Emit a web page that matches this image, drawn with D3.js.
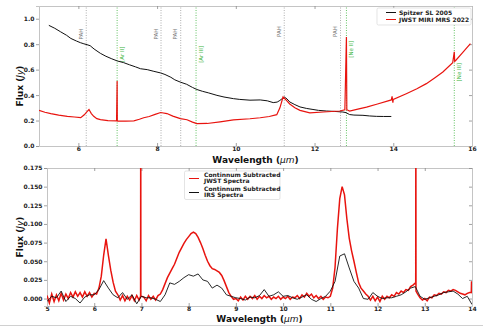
<!DOCTYPE html>
<html>
<head>
<meta charset="utf-8">
<script src="https://cdn.jsdelivr.net/npm/d3@7"></script>
<style>
  html, body { margin: 0; padding: 0; background: #fff; }
  svg { display: block; font-family: "DejaVu Sans", sans-serif; }
</style>
</head>
<body>
<svg id="chart" width="483" height="328"></svg>
<script>
// ---------- Top panel: full spectra ----------
const spitzerWave = [5.25,5.4,5.55,5.7,5.81,5.95,6.05,6.14,6.22,6.3,6.4,6.56,6.7,6.85,6.99,7.15,7.3,7.45,7.58,7.75,7.9,8.09,8.2,8.35,8.45,8.59,8.75,8.9,9.01,9.15,9.3,9.52,9.7,9.94,10.1,10.36,10.62,10.8,10.95,11.05,11.12,11.23,11.3,11.37,11.5,11.63,11.8,11.96,12.1,12.3,12.5,12.72,12.8,12.89,13.0,13.23,13.4,13.57,13.75,13.95];
const spitzerFlux = [0.948,0.925,0.897,0.87,0.845,0.825,0.812,0.803,0.796,0.788,0.762,0.728,0.705,0.685,0.668,0.655,0.638,0.622,0.607,0.600,0.588,0.574,0.562,0.54,0.52,0.502,0.485,0.46,0.444,0.43,0.418,0.398,0.385,0.372,0.366,0.360,0.362,0.355,0.341,0.345,0.358,0.385,0.37,0.346,0.325,0.307,0.295,0.287,0.28,0.275,0.272,0.267,0.262,0.247,0.243,0.241,0.236,0.233,0.232,0.232];

const jwstWave = [5.0,5.15,5.3,5.5,5.72,5.9,6.06,6.15,6.22,6.27,6.33,6.39,6.47,6.56,6.75,6.97,6.985,6.99,7.0,7.2,7.41,7.55,7.66,7.8,7.95,8.09,8.25,8.4,8.59,8.76,8.9,9.01,9.27,9.6,9.94,10.36,10.62,10.85,11.04,11.12,11.2,11.28,11.37,11.5,11.63,11.88,12.22,12.64,12.77,12.81,12.82,12.89,13.1,13.32,13.6,13.95,13.97,13.99,14.0,14.33,14.6,14.84,15.05,15.26,15.51,15.55,15.56,15.58,15.75,15.96];
const jwstFlux = [0.28,0.265,0.254,0.242,0.233,0.228,0.223,0.245,0.27,0.287,0.255,0.233,0.215,0.207,0.2,0.197,0.51,0.197,0.196,0.195,0.197,0.21,0.222,0.232,0.248,0.263,0.255,0.235,0.215,0.206,0.188,0.176,0.177,0.19,0.205,0.214,0.222,0.232,0.246,0.3,0.385,0.36,0.33,0.3,0.28,0.26,0.267,0.275,0.285,0.856,0.285,0.275,0.29,0.306,0.33,0.362,0.39,0.34,0.366,0.411,0.45,0.49,0.535,0.581,0.655,0.74,0.665,0.67,0.73,0.804];

// Feature markers (wavelength in micron)
const featureWave  = [6.2, 6.985, 8.1, 8.6, 8.99, 11.23, 12.66, 12.81, 15.55];
const featureLabel = ["PAH", "[Ar II]", "PAH", "PAH", "[Ar III]", "PAH", "PAH", "[Ne II]", "[Ne III]"];
const featureKind  = ["pah", "ion", "pah", "pah", "ion", "pah", "pah", "ion", "ion"];
const featureTextY = [0.88, 0.72, 0.88, 0.88, 0.72, 0.90, 0.90, 0.76, 0.58];

const topXTicks = [6, 8, 10, 12, 14, 16];
const topYTicks = [0.0, 0.2, 0.4, 0.6, 0.8, 1.0];
const topLegend = ["Spitzer SL 2005", "JWST MIRI MRS 2022"];

// ---------- Bottom panel: continuum subtracted ----------
// JWST sampled every 0.05 micron from 5.00 to 14.00
const jwstSubStart = 5.0, jwstSubStep = 0.05;
const jwstSubFlux = [
  0.004,-0.006,0.006,-0.004,0.005,-0.003,0.007,-0.002,0.006,0.000,
  0.008,0.002,0.009,0.003,0.008,0.002,0.009,0.003,0.008,0.002,
  0.007,0.006,0.014,0.030,0.058,0.080,0.058,0.038,0.022,0.010,
  0.005,-0.002,0.004,-0.003,0.003,-0.002,0.004,-0.003,0.004,-0.002,
  0.003,0.002,-0.003,0.004,-0.001,0.003,-0.002,0.004,0.006,0.012,
  0.020,0.028,0.034,0.040,0.046,0.054,0.062,0.068,0.074,0.079,
  0.083,0.087,0.089,0.087,0.082,0.075,0.067,0.058,0.050,0.044,
  0.040,0.039,0.037,0.035,0.031,0.024,0.016,0.008,0.003,-0.001,
  0.000,-0.003,0.002,-0.002,0.003,-0.001,0.003,0.000,0.004,-0.001,
  0.003,0.000,0.004,0.001,0.003,-0.001,0.002,0.000,0.003,-0.001,
  0.002,0.000,0.003,-0.001,0.002,0.001,0.004,0.000,0.005,0.002,
  0.007,0.003,0.006,0.001,0.004,0.000,0.003,-0.001,0.002,0.001,
  0.003,0.014,0.042,0.094,0.134,0.150,0.139,0.107,0.081,0.064,
  0.050,0.035,0.021,0.014,0.010,0.006,0.003,-0.002,0.003,-0.003,
  0.002,-0.004,0.003,-0.001,0.003,0.001,0.005,0.003,0.008,0.006,
  0.010,0.008,0.012,0.011,0.016,0.018,0.021,0.006,0.001,-0.002,
  0.000,-0.003,0.002,0.001,0.005,0.004,0.007,0.006,0.009,0.008,
  0.011,0.010,0.012,0.011,0.009,0.007,0.006,0.005,0.007,0.008,
  0.007
];
// narrow emission lines in the JWST residual
const jwstLineWave = [6.982, 6.985, 6.988, 12.808, 12.811, 12.814, 13.985, 13.99, 13.995];
const jwstLineFlux = [0.003, 0.30, 0.003, 0.021, 0.30, 0.010, 0.008, 0.023, 0.008];

// IRS sampled every 0.1 micron from 5.0 to 14.0
const irsSubStart = 5.0, irsSubStep = 0.1;
const irsSubFlux = [
  -0.004,0.003,0.001,0.010,-0.004,0.003,0.000,-0.006,0.002,0.005,
  0.005,0.012,0.024,0.014,0.005,0.001,0.008,-0.001,0.005,-0.007,
  0.003,0.001,0.001,-0.001,-0.004,0.005,0.021,0.019,0.023,0.028,
  0.032,0.030,0.033,0.025,0.023,0.014,0.018,0.014,0.005,0.003,
  0.001,0.000,-0.002,0.002,0.001,0.004,0.012,0.003,0.005,0.009,
  0.003,0.004,0.001,-0.001,0.002,0.005,-0.001,-0.004,0.000,0.003,
  0.010,0.023,0.057,0.060,0.041,0.023,0.014,0.000,-0.001,0.008,
  0.003,0.000,0.001,0.001,0.003,0.005,0.009,0.014,0.016,0.003,
  -0.001,0.001,0.003,0.005,0.008,0.009,0.010,0.006,0.000,0.003,
  -0.008
];

const botXTicks = [5, 6, 7, 8, 9, 10, 11, 12, 13, 14];
const botYTicks = [0.000, 0.025, 0.050, 0.075, 0.100, 0.125, 0.150, 0.175];
const botLegend = [["Continnum Subtracted", "JWST Spectra"], ["Continnum Subtracted", "IRS Spectra"]];

// ---------- styling ----------
const RED = "#e8140f";
const BLACK = "#111";
const SPINE = "#c4c4c4";
const TICK = "#8a8a8a";
const TICKTXT = "#222";
const PAHCOL = "#777";
const IONCOL = "#3cb43c";

const svg = d3.select("#chart");

function buildPanel(opts) {
  const g = svg.append("g");
  const x = d3.scaleLinear().domain(opts.xDomain).range([opts.left, opts.right]);
  const y = d3.scaleLinear().domain(opts.yDomain).range([opts.bottom, opts.top]);

  const clipId = "clip-" + opts.name;
  svg.append("clipPath").attr("id", clipId)
    .append("rect").attr("x", opts.left).attr("y", opts.top)
    .attr("width", opts.right - opts.left).attr("height", opts.bottom - opts.top);

  // axes: labelled bottom/left, mirrored unlabelled ticks on top/right
  const axB = g.append("g").attr("transform", `translate(0,${opts.bottom})`)
    .call(d3.axisBottom(x).tickValues(opts.xTicks).tickSize(-3).tickPadding(1).tickFormat(d3.format("d")));
  const axT = g.append("g").attr("transform", `translate(0,${opts.top})`)
    .call(d3.axisTop(x).tickValues(opts.xTicks).tickSize(-3).tickFormat(""));
  const axL = g.append("g").attr("transform", `translate(${opts.left},0)`)
    .call(d3.axisLeft(y).tickValues(opts.yTicks).tickSize(3).tickPadding(1.5).tickFormat(d3.format(opts.yFmt)));
  const axR = g.append("g").attr("transform", `translate(${opts.right},0)`)
    .call(d3.axisRight(y).tickValues(opts.yTicks).tickSize(-3).tickFormat(""));
  [axB, axT, axL, axR].forEach(a => {
    a.select(".domain").attr("stroke", SPINE).attr("stroke-width", 1);
    a.selectAll(".tick line").attr("stroke", TICK).attr("stroke-width", 0.8);
    a.selectAll(".tick text").attr("fill", TICKTXT).attr("font-size", 6)
      .attr("font-weight", "bold").attr("font-family", "DejaVu Sans");
  });

  // axis titles
  const xl = g.append("text")
    .attr("x", (opts.left + opts.right) / 2).attr("y", opts.xLabelY)
    .attr("text-anchor", "middle").attr("font-size", 9).attr("font-weight", "bold").attr("fill", "#111");
  xl.append("tspan").text("Wavelength (");
  xl.append("tspan").attr("font-style", "italic").attr("font-weight", "normal").text("\u03bcm");
  xl.append("tspan").text(")");

  const yl = g.append("text")
    .attr("transform", `translate(${opts.yLabelX},${opts.yLabelCY}) rotate(-90)`)
    .attr("text-anchor", "middle").attr("font-size", 9).attr("font-weight", "bold").attr("fill", "#111");
  yl.append("tspan").text("Flux (");
  yl.append("tspan").attr("font-style", "italic").attr("font-weight", "normal").text("Jy");
  yl.append("tspan").text(")");

  const plot = g.append("g").attr("clip-path", `url(#${clipId})`);
  return { g, plot, x, y };
}

// ---------- top panel ----------
const topPanel = buildPanel({
  name: "top", xDomain: [5, 16], yDomain: [0, 1.1],
  left: 39, right: 472, top: 6, bottom: 146,
  xTicks: topXTicks, yTicks: topYTicks, yFmt: ".1f",
  xLabelY: 163, yLabelX: 23, yLabelCY: 86
});

// feature markers
featureWave.forEach((w, i) => {
  const isPah = featureKind[i] === "pah";
  topPanel.plot.append("line")
    .attr("x1", topPanel.x(w)).attr("x2", topPanel.x(w))
    .attr("y1", topPanel.y.range()[0]).attr("y2", topPanel.y.range()[1])
    .attr("stroke", isPah ? "#999" : IONCOL).attr("stroke-width", 0.8)
    .attr("stroke-dasharray", "1,1.5");
  const tx = isPah ? topPanel.x(w) - 3.5 : topPanel.x(w) + 7;
  topPanel.plot.append("text")
    .attr("transform", `translate(${tx},${topPanel.y(featureTextY[i])}) rotate(-90)`)
    .attr("text-anchor", "middle").attr("font-size", 5.5)
    .attr("fill", isPah ? PAHCOL : IONCOL)
    .text(featureLabel[i]);
});

const lineTop = d3.line().x(d => topPanel.x(d[0])).y(d => topPanel.y(d[1]));
topPanel.plot.append("path")
  .datum(spitzerWave.map((w, i) => [w, spitzerFlux[i]]))
  .attr("d", lineTop).attr("fill", "none").attr("stroke", BLACK).attr("stroke-width", 1);
topPanel.plot.append("path")
  .datum(jwstWave.map((w, i) => [w, jwstFlux[i]]))
  .attr("d", lineTop).attr("fill", "none").attr("stroke", RED).attr("stroke-width", 1.2);

// top legend
{
  const lg = topPanel.g.append("g");
  lg.append("rect").attr("x", 377).attr("y", 8).attr("width", 94).attr("height", 17)
    .attr("rx", 1.5).attr("fill", "#fff").attr("stroke", "#d8d8d8").attr("stroke-width", 0.7);
  const cols = [BLACK, RED];
  topLegend.forEach((t, i) => {
    const yy = 12.5 + i * 7;
    lg.append("line").attr("x1", 386).attr("x2", 396).attr("y1", yy).attr("y2", yy)
      .attr("stroke", cols[i]).attr("stroke-width", 1);
    lg.append("text").attr("x", 399).attr("y", yy + 2).attr("font-size", 6)
      .attr("font-weight", "bold").attr("fill", "#222").text(t);
  });
}

// ---------- bottom panel ----------
const botPanel = buildPanel({
  name: "bot", xDomain: [5, 14], yDomain: [-0.01, 0.175],
  left: 47, right: 472, top: 168, bottom: 306,
  xTicks: botXTicks, yTicks: botYTicks, yFmt: ".3f",
  xLabelY: 322, yLabelX: 23, yLabelCY: 237
});

const jwstSeries = jwstSubFlux.map((f, i) => [jwstSubStart + i * jwstSubStep, f])
  .concat(jwstLineWave.map((w, i) => [w, jwstLineFlux[i]]))
  .sort((a, b) => a[0] - b[0]);
const irsSeries = irsSubFlux.map((f, i) => [irsSubStart + i * irsSubStep, f]);

const lineBot = d3.line().x(d => botPanel.x(d[0])).y(d => botPanel.y(d[1]));
botPanel.plot.append("path").datum(jwstSeries)
  .attr("d", lineBot).attr("fill", "none").attr("stroke", RED).attr("stroke-width", 1.5);
botPanel.plot.append("path").datum(irsSeries)
  .attr("d", lineBot).attr("fill", "none").attr("stroke", BLACK).attr("stroke-width", 0.9);

// bottom legend
{
  const lg = botPanel.g.append("g");
  lg.append("rect").attr("x", 184.5).attr("y", 171).attr("width", 95.5).attr("height", 28.5)
    .attr("rx", 1.5).attr("fill", "#fff").attr("stroke", "#d8d8d8").attr("stroke-width", 0.7);
  const cols = [RED, BLACK];
  botLegend.forEach((pair, i) => {
    const y0 = 177 + i * 14;
    lg.append("line").attr("x1", 189).attr("x2", 199).attr("y1", y0 + 1.5).attr("y2", y0 + 1.5)
      .attr("stroke", cols[i]).attr("stroke-width", 1);
    pair.forEach((t, j) => {
      lg.append("text").attr("x", 204).attr("y", y0 + j * 6.2).attr("font-size", 6)
        .attr("font-weight", "bold").attr("fill", "#222").text(t);
    });
  });
}

// frame separator under the lower panel
svg.append("line").attr("x1", 0).attr("x2", 483).attr("y1", 325.5).attr("y2", 325.5)
  .attr("stroke", "#d0d0d0").attr("stroke-width", 1);
</script>
</body>
</html>
